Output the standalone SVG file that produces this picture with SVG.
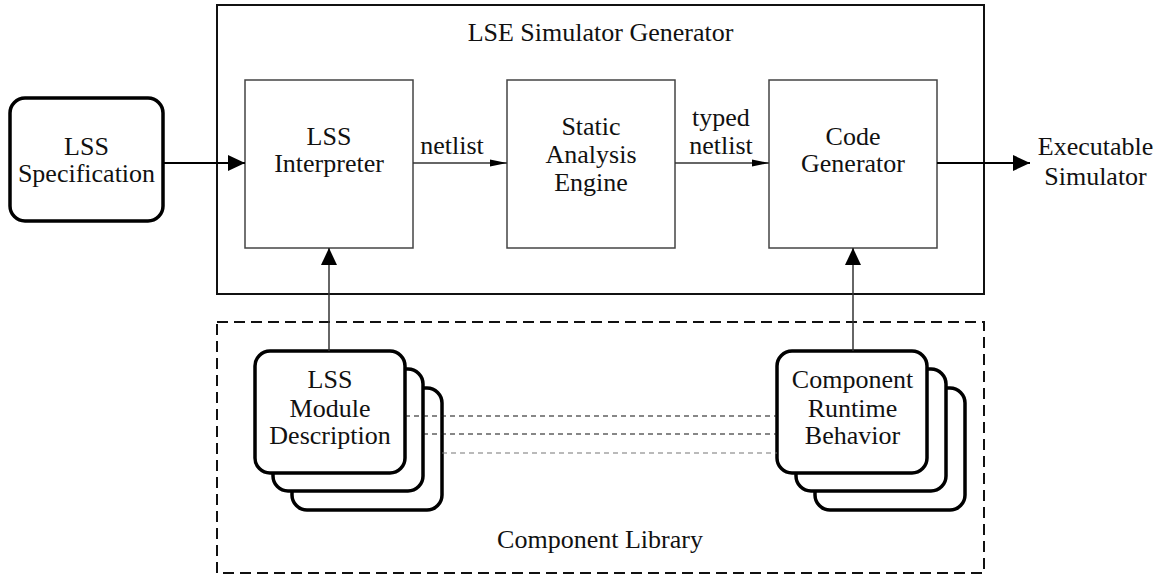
<svg xmlns="http://www.w3.org/2000/svg" width="1165" height="577" viewBox="0 0 1165 577">
  <style>
    text { font-family: "Liberation Serif", "Times New Roman", serif; font-size: 26px; fill: #111; text-anchor: middle; }
    .frame { fill: none; stroke: #111; stroke-width: 2; }
    .lib { fill: none; stroke: #111; stroke-width: 2; stroke-dasharray: 11 6; }
    .stage { fill: #fff; stroke: #444; stroke-width: 1.5; }
    .doc { fill: #fff; stroke: #000; stroke-width: 3.5; }
    .bold { fill: none; stroke: #000; stroke-width: 2; }
    .thin { fill: none; stroke: #333; stroke-width: 1.5; }
    .link { fill: none; stroke: #111; stroke-width: 1.2; stroke-dasharray: 5 4; }
    .link.faint { stroke: #777; }
  </style>
  <defs>
    <marker id="head" markerUnits="userSpaceOnUse" markerWidth="17" markerHeight="16" refX="17" refY="8" orient="auto">
      <path d="M0,0 L17,8 L0,16 z" fill="#000"/>
    </marker>
    <marker id="headThin" markerUnits="userSpaceOnUse" markerWidth="17" markerHeight="8" refX="17" refY="4" orient="auto">
      <path d="M0,0.5 L17,4 L0,7.5 z" fill="#000"/>
    </marker>
  </defs>

  <!-- generator frame -->
  <g id="generator">
    <rect class="frame" x="217" y="5" width="767" height="289"/>
    <text x="600.5" y="41">LSE Simulator Generator</text>
  </g>

  <!-- component library frame -->
  <g id="library">
    <rect class="lib" x="217" y="322" width="767" height="251"/>
    <text x="600" y="548">Component Library</text>
  </g>

  <g id="spec">
    <rect class="doc" x="10" y="98" width="153" height="123" rx="15"/>
    <text x="86.5" y="155">LSS</text>
    <text x="86.5" y="182">Specification</text>
  </g>

  <g id="interpreter">
    <rect class="stage" x="245" y="80" width="168" height="168"/>
    <text x="329" y="145">LSS</text>
    <text x="329" y="172">Interpreter</text>
  </g>

  <g id="analysis">
    <rect class="stage" x="507" y="80" width="168" height="168"/>
    <text x="591" y="135">Static</text>
    <text x="591" y="163">Analysis</text>
    <text x="591" y="191">Engine</text>
  </g>

  <g id="codegen">
    <rect class="stage" x="769" y="80" width="168" height="168"/>
    <text x="853" y="145">Code</text>
    <text x="853" y="172">Generator</text>
  </g>

  <g id="executable">
    <text x="1095.5" y="155">Executable</text>
    <text x="1095.5" y="185">Simulator</text>
  </g>

  <g id="modules">
    <rect class="doc" x="292" y="388" width="150" height="122" rx="15"/>
    <rect class="doc" x="273" y="369" width="150" height="122" rx="15"/>
    <rect class="doc" x="255" y="351" width="150" height="122" rx="15"/>
    <text x="330" y="388">LSS</text>
    <text x="330" y="417">Module</text>
    <text x="330" y="444">Description</text>
  </g>

  <g id="behaviors">
    <rect class="doc" x="815" y="388" width="150" height="122" rx="15"/>
    <rect class="doc" x="796" y="369" width="150" height="122" rx="15"/>
    <rect class="doc" x="777" y="351" width="150" height="122" rx="15"/>
    <text x="852.5" y="388">Component</text>
    <text x="852.5" y="417">Runtime</text>
    <text x="852.5" y="444">Behavior</text>
  </g>

  <g id="connectors">
    <line class="bold" x1="163" y1="163" x2="245" y2="163" marker-end="url(#head)"/>
    <line class="thin" x1="413" y1="163" x2="507" y2="163" marker-end="url(#headThin)"/>
    <text x="452" y="154">netlist</text>
    <line class="thin" x1="675" y1="163" x2="769" y2="163" marker-end="url(#headThin)"/>
    <text x="721" y="126">typed</text>
    <text x="721" y="154">netlist</text>
    <line class="bold" x1="937" y1="163" x2="1030" y2="163" marker-end="url(#head)"/>
    <line class="thin" x1="329" y1="351" x2="329" y2="248" marker-end="url(#head)"/>
    <line class="thin" x1="853" y1="351" x2="853" y2="248" marker-end="url(#head)"/>
    <line class="link" x1="405" y1="416" x2="777" y2="416"/>
    <line class="link" x1="423" y1="434" x2="777" y2="434"/>
    <line class="link faint" x1="442" y1="453" x2="777" y2="453"/>
  </g>
</svg>
